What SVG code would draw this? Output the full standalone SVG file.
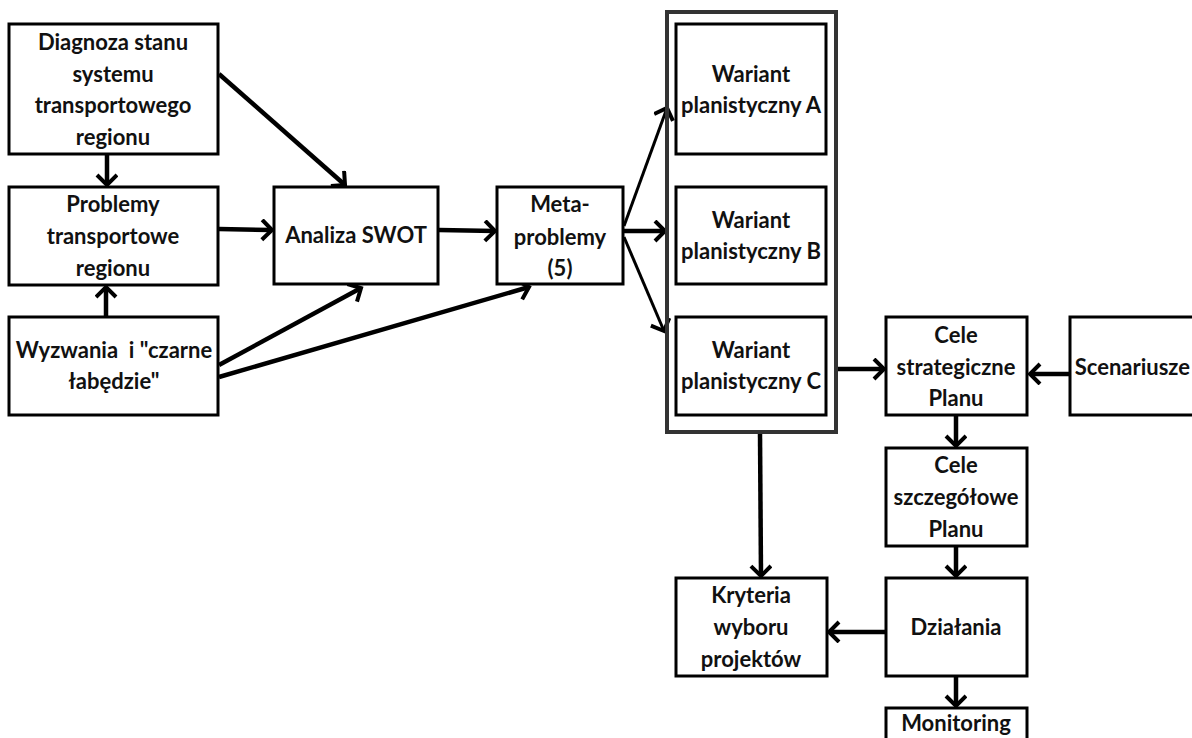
<svg xmlns="http://www.w3.org/2000/svg" width="1192" height="738" viewBox="0 0 1192 738">
<defs>
<style>
.box{fill:#fff;stroke:#000;stroke-width:3}
.outer{fill:none;stroke:#333;stroke-width:4}
.t{font-family:Lato,"Liberation Sans",sans-serif;font-weight:bold;font-size:22px;fill:#111;text-anchor:middle}
.c{fill:none;stroke:#000;stroke-width:4.5}
.cn{fill:none;stroke:#000;stroke-width:3}
</style>
<marker id="ah" markerUnits="userSpaceOnUse" markerWidth="24" markerHeight="24" refX="12" refY="11" orient="auto">
<path d="M2,1 L12,11 L2,21" fill="none" stroke="#000" stroke-width="4"/>
</marker>
</defs>
<rect width="1192" height="738" fill="#fff"/>
<g id="connectors">
<line class="c" x1="107" y1="154" x2="107" y2="185" marker-end="url(#ah)"/>
<line class="c" x1="106" y1="317" x2="106" y2="287" marker-end="url(#ah)"/>
<line class="c" x1="219" y1="74" x2="345" y2="185" marker-end="url(#ah)"/>
<line class="c" x1="219" y1="229" x2="272" y2="230" marker-end="url(#ah)"/>
<line class="c" x1="219" y1="365" x2="361" y2="288" marker-end="url(#ah)"/>
<line class="c" x1="219" y1="377" x2="529" y2="287" marker-end="url(#ah)"/>
<line class="c" x1="439" y1="230" x2="495" y2="231" marker-end="url(#ah)"/>
<line class="cn" x1="624" y1="226" x2="667" y2="108" marker-end="url(#ah)"/>
<line class="c" x1="624" y1="231" x2="665" y2="231" marker-end="url(#ah)"/>
<line class="cn" x1="624" y1="237" x2="664" y2="331" marker-end="url(#ah)"/>
<line class="c" x1="834" y1="369" x2="884" y2="369" marker-end="url(#ah)"/>
<line class="c" x1="1070" y1="374" x2="1030" y2="374" marker-end="url(#ah)"/>
<line class="c" x1="956" y1="416" x2="956" y2="446" marker-end="url(#ah)"/>
<line class="c" x1="956" y1="547" x2="956" y2="576" marker-end="url(#ah)"/>
<line class="c" x1="956" y1="677" x2="956" y2="706" marker-end="url(#ah)"/>
<line class="c" x1="886" y1="632" x2="829" y2="632" marker-end="url(#ah)"/>
<line class="c" x1="760" y1="433" x2="761" y2="576" marker-end="url(#ah)"/>
</g>
<g id="diagnoza">
<rect class="box" x="9" y="24" width="209" height="130"/>
<text class="t"><tspan x="113" y="50">Diagnoza stanu</tspan><tspan x="113" y="82">systemu</tspan><tspan x="113" y="113">transportowego</tspan><tspan x="113" y="145">regionu</tspan></text>
</g>
<g id="problemy">
<rect class="box" x="9" y="187" width="209" height="98"/>
<text class="t"><tspan x="113" y="212">Problemy</tspan><tspan x="113" y="244">transportowe</tspan><tspan x="113" y="276">regionu</tspan></text>
</g>
<g id="wyzwania">
<rect class="box" x="9" y="317" width="209" height="98"/>
<text class="t" xml:space="preserve"><tspan x="114" y="358">Wyzwania  i "czarne</tspan><tspan x="114" y="389">łabędzie"</tspan></text>
</g>
<g id="swot">
<rect class="box" x="274" y="187" width="164" height="97"/>
<text class="t" x="356" y="243">Analiza SWOT</text>
</g>
<g id="meta">
<rect class="box" x="497" y="187" width="126" height="97"/>
<text class="t"><tspan x="560" y="212">Meta-</tspan><tspan x="560" y="245">problemy</tspan><tspan x="560" y="276">(5)</tspan></text>
</g>
<g id="warianty">
<rect class="outer" x="667" y="12" width="169" height="420"/>
</g>
<g id="wariantA">
<rect class="box" x="676" y="24" width="150" height="130"/>
<text class="t"><tspan x="751" y="82">Wariant</tspan><tspan x="751" y="113">planistyczny A</tspan></text>
</g>
<g id="wariantB">
<rect class="box" x="676" y="187" width="150" height="97"/>
<text class="t"><tspan x="751" y="228">Wariant</tspan><tspan x="751" y="259">planistyczny B</tspan></text>
</g>
<g id="wariantC">
<rect class="box" x="676" y="317" width="150" height="98"/>
<text class="t"><tspan x="751" y="358">Wariant</tspan><tspan x="751" y="389">planistyczny C</tspan></text>
</g>
<g id="celeStrat">
<rect class="box" x="886" y="317" width="141" height="98"/>
<text class="t"><tspan x="956" y="343">Cele</tspan><tspan x="956" y="375">strategiczne</tspan><tspan x="956" y="406">Planu</tspan></text>
</g>
<g id="scenariusze">
<rect class="box" x="1070" y="317" width="142" height="98"/>
<text class="t" x="1190" y="375" style="text-anchor:end">Scenariusze</text>
</g>
<g id="celeSzcz">
<rect class="box" x="886" y="448" width="141" height="98"/>
<text class="t"><tspan x="956" y="473">Cele</tspan><tspan x="956" y="505">szczegółowe</tspan><tspan x="956" y="537">Planu</tspan></text>
</g>
<g id="dzialania">
<rect class="box" x="886" y="578" width="141" height="98"/>
<text class="t" x="956" y="635">Działania</text>
</g>
<g id="kryteria">
<rect class="box" x="676" y="578" width="151" height="98"/>
<text class="t"><tspan x="751" y="603">Kryteria</tspan><tspan x="751" y="635">wyboru</tspan><tspan x="751" y="667">projektów</tspan></text>
</g>
<g id="monitoring">
<rect class="box" x="886" y="708" width="141" height="40"/>
<text class="t" x="956" y="731">Monitoring</text>
</g>
</svg>
